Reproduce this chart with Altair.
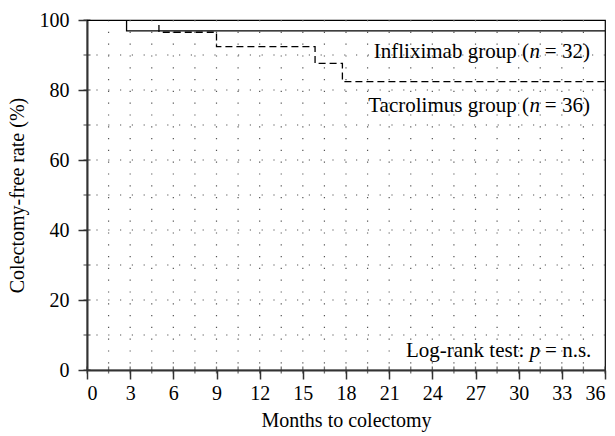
import altair as alt
import pandas as pd

# Kaplan-Meier step curves (months, colectomy-free rate %)
months_inf = [0, 2.75, 36]
rate_inf = [100, 96.9, 96.9]
months_tac = [0, 5.0, 9.0, 15.85, 17.75, 36]
rate_tac = [100, 96.5, 92.4, 87.6, 82.4, 82.4]

# axis / grid values
x_major = list(range(0, 37, 3))
x_minor = [i * 1.5 for i in range(25)]
y_major = [0, 20, 40, 60, 80, 100]
y_minor = list(range(0, 101, 10))
grid_x = [i * 1.5 for i in range(1, 24)]
grid_y = list(range(10, 100, 10))

FONT = "Liberation Serif"
NB = "\u00a0"

xscale = alt.Scale(domain=[0, 36], nice=False, zero=False)
yscale = alt.Scale(domain=[0, 100], nice=False)
xaxis = alt.Axis(values=x_major, title="Months to colectomy", grid=False,
                 tickSize=9, labelPadding=4, titlePadding=7, format="d")
yaxis = alt.Axis(values=y_major, title="Colectomy-free rate (%)", grid=False,
                 tickSize=9, labelPadding=9, titlePadding=12, format="d")


def X():
    return alt.X("m:Q", scale=xscale, axis=xaxis, title="Months to colectomy")


def Y():
    return alt.Y("r:Q", scale=yscale, axis=yaxis, title="Colectomy-free rate (%)")


df_inf = pd.DataFrame({"m": months_inf, "r": rate_inf})
df_tac = pd.DataFrame({"m": months_tac, "r": rate_tac})

vgrid = alt.Chart(pd.DataFrame({"m": grid_x})).mark_rule(
    color="#555", strokeWidth=1.2, strokeDash=[1.2, 10.6]
).encode(x=X())

hgrid = alt.Chart(pd.DataFrame({"r": grid_y})).mark_rule(
    color="#555", strokeWidth=1.2, strokeDash=[1.2, 10.6]
).encode(y=Y())

xminor = alt.Chart(pd.DataFrame({"m": x_minor, "r": [0] * len(x_minor)})).mark_tick(
    orient="vertical", size=7, thickness=1.3, color="#333"
).encode(x=X(), y=Y())

yminor = alt.Chart(pd.DataFrame({"r": y_minor, "m": [0] * len(y_minor)})).mark_tick(
    orient="horizontal", size=7, thickness=1.3, color="#333"
).encode(x=X(), y=Y())

line_inf = alt.Chart(df_inf).mark_line(
    interpolate="step-after", color="black", strokeWidth=1.3, clip=True
).encode(x=X(), y=Y())

line_tac = alt.Chart(df_tac).mark_line(
    interpolate="step-after", color="black", strokeWidth=1.3, strokeDash=[7, 4], clip=True
).encode(x=X(), y=Y())


def label(parts, x, y, size=21):
    """parts: list of (text, italic, dx) right-aligned at (x, y)."""
    layers = []
    for txt, ital, dx in parts:
        layers.append(
            alt.Chart(pd.DataFrame({"m": [x], "r": [y], "t": [txt]})).mark_text(
                align="right", baseline="alphabetic", font=FONT, fontSize=size,
                fontStyle="italic" if ital else "normal", dx=dx, color="black"
            ).encode(x=X(), y=Y(), text="t:N")
        )
    return layers


lab_inf = label([(NB + "=" + NB + "32)", False, 0), ("n", True, -50),
                 ("Infliximab group" + NB + "(", False, -61)], 34.95, 89.1)
lab_tac = label([(NB + "=" + NB + "36)", False, 0), ("n", True, -50),
                 ("Tacrolimus group" + NB + "(", False, -61)], 34.95, 73.8)
lab_lr = label([(NB + "=" + NB + "n.s.", False, 0), ("p", True, -51),
                ("Log-rank test:", False, -67)], 35.05, 3.8)

chart = alt.layer(
    vgrid, hgrid, xminor, yminor, line_inf, line_tac, *lab_inf, *lab_tac, *lab_lr
).properties(
    width=518, height=350, background="white",
    autosize=alt.AutoSizeParams(type="none"),
    padding={"left": 87, "top": 20, "right": 10, "bottom": 66},
).configure_view(
    stroke="black", strokeWidth=1.2
).configure_axis(
    labelFont=FONT, titleFont=FONT, labelFontSize=20, titleFontSize=20,
    labelColor="black", titleColor="black", titleFontWeight="normal",
    domainColor="#333", domainWidth=2, tickColor="#333", tickWidth=1.5,
)

chart.save("out.html", embed_options={"renderer": "svg", "actions": False})
